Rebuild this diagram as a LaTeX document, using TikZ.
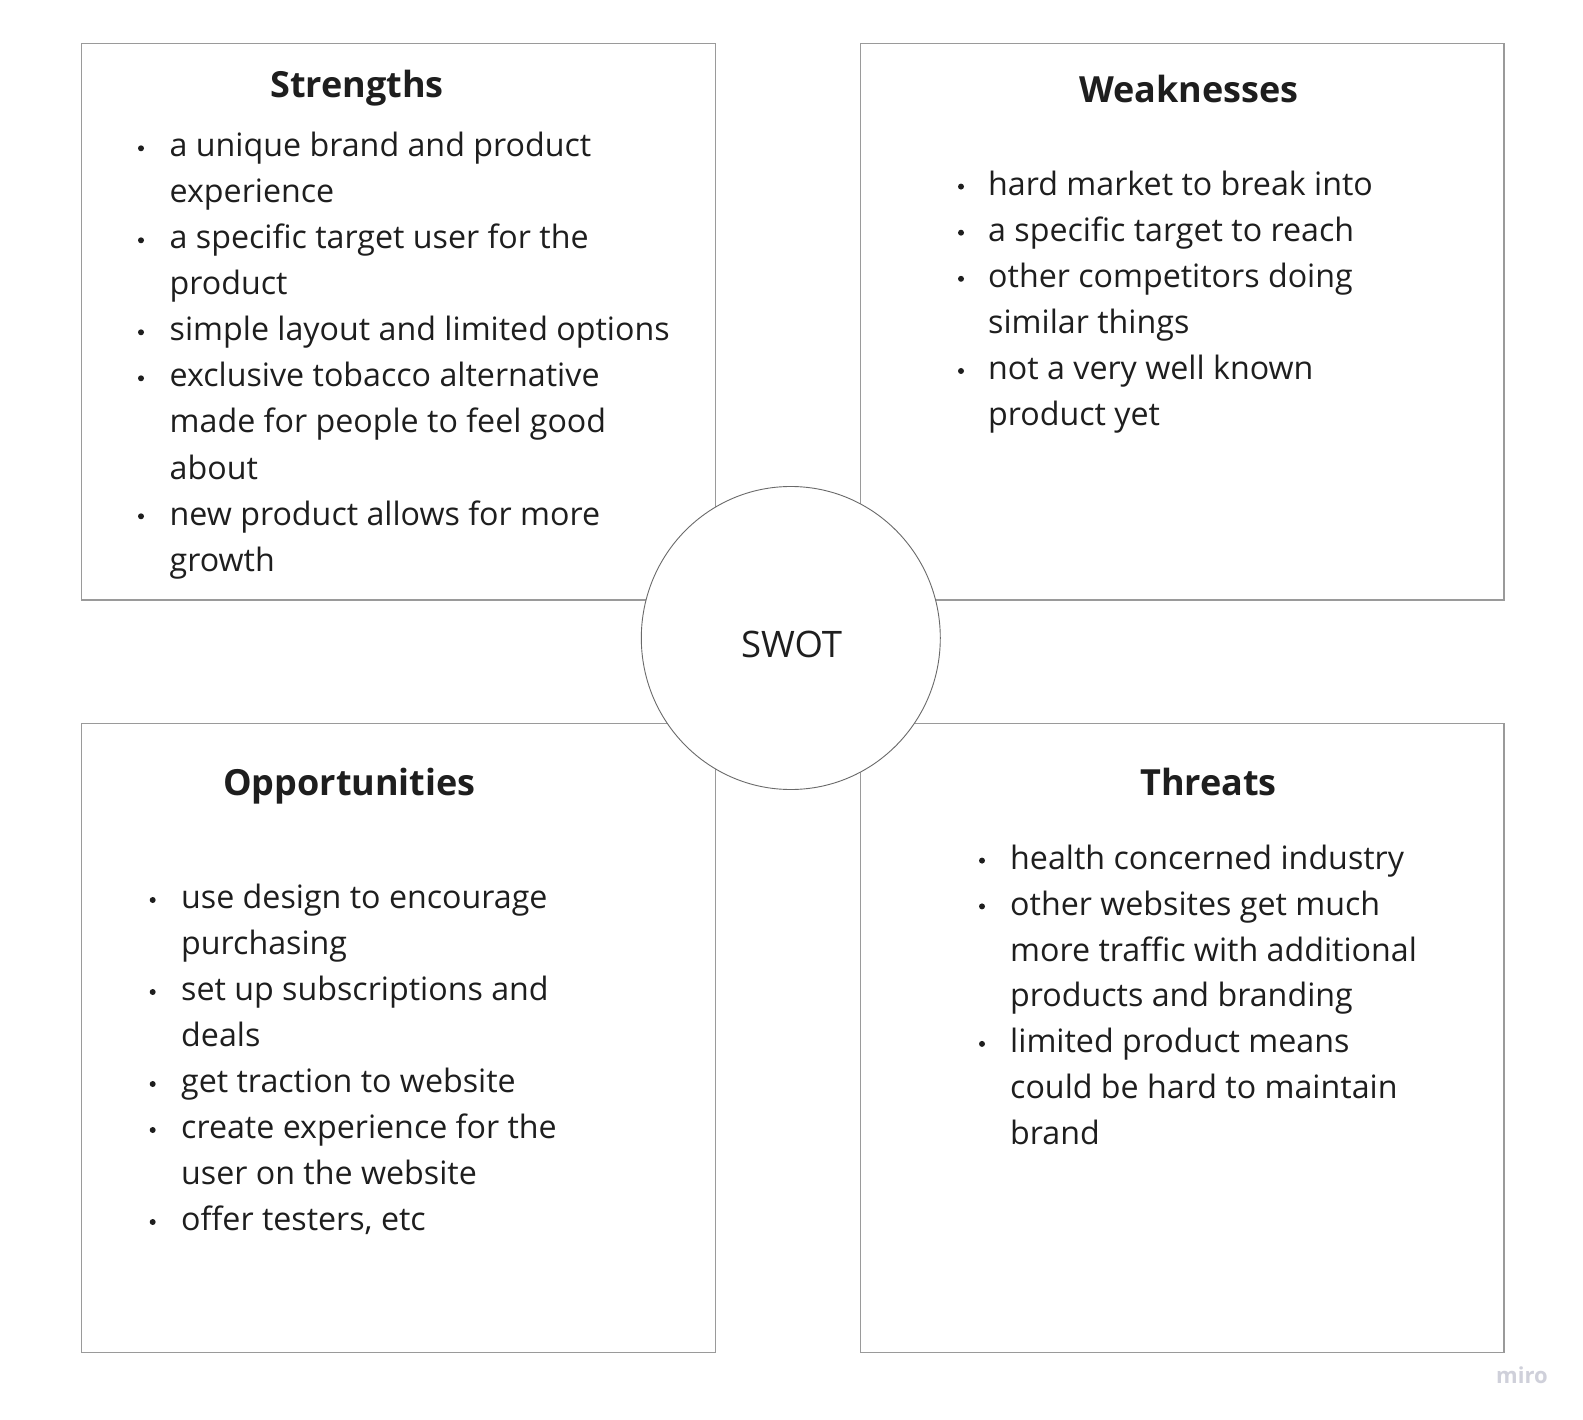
\documentclass[tikz,border=0pt]{standalone}
\usepackage{fontspec}
\setmainfont{Open Sans}
\usetikzlibrary{shapes.geometric}
\definecolor{ink}{HTML}{1E1E1E}
\definecolor{frame}{HTML}{9A9A9A}
\definecolor{ring}{HTML}{6A6A6A}
\definecolor{mark}{HTML}{CFD0DA}
\tikzset{
  quad/.style={draw=frame, line width=1.3pt, rectangle, inner sep=0pt, fill=white},
  hub/.style={draw=ring, line width=0.9pt, ellipse, fill=white, inner sep=0pt, minimum width=299pt, minimum height=303pt},
  heading/.style={anchor=base west, inner sep=0pt, text=ink, font=\fontsize{36}{44}\selectfont\bfseries},
  entry/.style={anchor=base west, inner sep=0pt, text=ink, font=\fontsize{32.2}{46}\selectfont},
  dot/.style={circle, fill=ink, inner sep=0pt, minimum size=6pt},
}
\begin{document}
\begin{tikzpicture}[x=1pt, y=-1pt]
  % page
  \fill[white] (0,0) rectangle (1583,1420);
  \useasboundingbox (0,0) rectangle (1583,1420);

  % four quadrant frames
  \node[quad, minimum width=634pt, minimum height=556.7pt] (sbox) at (398.7,321.7) {};
  \node[quad, minimum width=643.5pt, minimum height=556.7pt] (wbox) at (1182.3,321.7) {};
  \node[quad, minimum width=634pt, minimum height=629pt] (obox) at (398.7,1037.8) {};
  \node[quad, minimum width=643.5pt, minimum height=629pt] (tbox) at (1182.3,1037.8) {};

  % central circle
  \node[hub] (hub) at (790.8,638) {};
  \node[anchor=base, inner sep=0pt, text=ink, font=\fontsize{36.5}{40}\selectfont] (swot) at (791.5,657.8) {SWOT};

  % Strengths
  \node[heading] (sh) at (270,97.7) {Strengths};
  \node[dot] (sd1) at (141,148.3) {};
  \node[entry] (s1a) at (169.5,157) {a unique brand and product};
  \node[entry] (s1b) at (169.5,203) {experience};
  \node[dot] (sd2) at (141,240.3) {};
  \node[entry] (s2a) at (169.5,249) {a specific target user for the};
  \node[entry] (s2b) at (169.5,295) {product};
  \node[dot] (sd3) at (141,332.3) {};
  \node[entry] (s3a) at (169.5,341) {simple layout and limited options};
  \node[dot] (sd4) at (141,378.3) {};
  \node[entry] (s4a) at (169.5,387) {exclusive tobacco alternative};
  \node[entry] (s4b) at (169.5,433) {made for people to feel good};
  \node[entry] (s4c) at (169.5,479) {about};
  \node[dot] (sd5) at (141,516.3) {};
  \node[entry] (s5a) at (169.5,525) {new product allows for more};
  \node[entry] (s5b) at (169.5,571) {growth};

  % Weaknesses
  \node[heading] (wh) at (1079,102.8) {Weaknesses};
  \node[dot] (wd1) at (961,186.6) {};
  \node[entry] (w1a) at (988,195.3) {hard market to break into};
  \node[dot] (wd2) at (961,232.7) {};
  \node[entry] (w2a) at (988,241.4) {a specific target to reach};
  \node[dot] (wd3) at (961,278.8) {};
  \node[entry] (w3a) at (988,287.5) {other competitors doing};
  \node[entry] (w3b) at (988,333.6) {similar things};
  \node[dot] (wd4) at (961,371) {};
  \node[entry] (w4a) at (988,379.7) {not a very well known};
  \node[entry] (w4b) at (988,425.8) {product yet};

  % Opportunities
  \node[heading] (oh) at (223,795.3) {Opportunities};
  \node[dot] (od1) at (152.7,900) {};
  \node[entry] (o1a) at (181,908.7) {use design to encourage};
  \node[entry] (o1b) at (181,954.7) {purchasing};
  \node[dot] (od2) at (152.7,992) {};
  \node[entry] (o2a) at (181,1000.7) {set up subscriptions and};
  \node[entry] (o2b) at (181,1046.7) {deals};
  \node[dot] (od3) at (152.7,1084) {};
  \node[entry] (o3a) at (181,1092.7) {get traction to website};
  \node[dot] (od4) at (152.7,1130) {};
  \node[entry] (o4a) at (181,1138.7) {create experience for the};
  \node[entry] (o4b) at (181,1184.7) {user on the website};
  \node[dot] (od5) at (152.7,1222) {};
  \node[entry] (o5a) at (181,1230.7) {offer testers, etc};

  % Threats
  \node[heading] (th) at (1140,795.3) {Threats};
  \node[dot] (td1) at (982,860.6) {};
  \node[entry] (t1a) at (1010,869.3) {health concerned industry};
  \node[dot] (td2) at (982,906.4) {};
  \node[entry] (t2a) at (1010,915.1) {other websites get much};
  \node[entry] (t2b) at (1010,961) {more traffic with additional};
  \node[entry] (t2c) at (1010,1006.7) {products and branding};
  \node[dot] (td3) at (982,1043.9) {};
  \node[entry] (t3a) at (1010,1052.6) {limited product means};
  \node[entry] (t3b) at (1010,1098.4) {could be hard to maintain};
  \node[entry] (t3c) at (1010,1144.2) {brand};

  % watermark
  \node[anchor=base west, inner sep=0pt, text=mark, font=\fontsize{22}{28}\selectfont\bfseries] (miro) at (1496,1383.3) {miro};
\end{tikzpicture}
\end{document}
